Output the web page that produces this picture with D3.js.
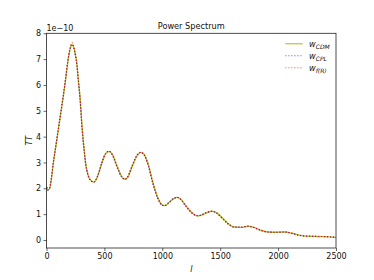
<!DOCTYPE html>
<html><head><meta charset="utf-8">
<script src="https://cdn.jsdelivr.net/npm/d3@7"></script>
<style>
html,body{margin:0;padding:0;background:#fff;}
svg{display:block;font-family:"DejaVu Sans",sans-serif;}
</style></head>
<body>
<svg id="chart" width="374" height="280"></svg>
<script>
// multipoles
const ells = [2,10,25,40,59,80,102,125,145,165,183,200,215,223,235,250,261,275,289,309,325,338,360,385,410,440,480,510,540,570,610,650,675,700,740,780,815,845,880,920,960,1000,1020,1060,1100,1130,1160,1200,1250,1300,1330,1380,1430,1470,1520,1570,1620,1680,1740,1790,1850,1910,1980,2060,2120,2180,2240,2320,2400,2500];
// TT values in units of 1e-10
const ttCDM = [2.05,1.93,1.97,2.3,2.97,3.6,4.26,4.95,5.55,6.2,6.85,7.3,7.53,7.56,7.45,7.15,6.85,6.2,5.55,4.26,3.5,2.97,2.5,2.3,2.24,2.45,3.0,3.33,3.43,3.3,2.85,2.45,2.35,2.42,2.85,3.25,3.39,3.3,2.9,2.2,1.65,1.35,1.33,1.45,1.6,1.65,1.58,1.35,1.08,0.94,0.95,1.05,1.11,1.05,0.85,0.63,0.5,0.49,0.53,0.49,0.38,0.31,0.3,0.31,0.26,0.19,0.15,0.14,0.13,0.10];
const ttCPL = [2.05,1.93,1.98,2.32,3.0,3.63,4.3,4.99,5.6,6.25,6.9,7.33,7.55,7.57,7.44,7.12,6.8,6.14,5.48,4.18,3.44,2.93,2.47,2.28,2.24,2.47,3.03,3.35,3.43,3.27,2.8,2.42,2.35,2.45,2.89,3.28,3.39,3.27,2.85,2.15,1.61,1.34,1.33,1.47,1.62,1.65,1.56,1.32,1.06,0.94,0.96,1.07,1.11,1.03,0.82,0.61,0.5,0.5,0.53,0.48,0.37,0.31,0.3,0.31,0.25,0.18,0.15,0.14,0.13,0.10];
const ttFR  = [2.06,1.94,1.98,2.31,2.99,3.62,4.29,4.98,5.59,6.25,6.9,7.37,7.6,7.63,7.51,7.2,6.89,6.22,5.56,4.27,3.51,2.98,2.5,2.3,2.24,2.45,3.0,3.34,3.44,3.31,2.86,2.46,2.35,2.42,2.85,3.25,3.4,3.31,2.9,2.2,1.65,1.35,1.33,1.45,1.6,1.65,1.58,1.35,1.08,0.94,0.95,1.05,1.11,1.05,0.85,0.63,0.5,0.49,0.53,0.49,0.38,0.31,0.3,0.31,0.26,0.19,0.15,0.14,0.13,0.10];
const xTicks = [0,500,1000,1500,2000,2500];
const yTicks = [0,1,2,3,4,5,6,7,8];
const seriesNames = ["CDM","CPL","f(R)"];
const seriesColors = ["#bcbd22","#0000ff","#ff0000"];

const svg = d3.select("#chart");
const L = 46.5, R = 336, T = 33.3, B = 248;
const x = d3.scaleLinear().domain([0,2500]).range([L,R]);
const y = d3.scaleLinear().domain([-0.31,8.0]).range([B,T]);

const line = d3.line().x(d=>x(d[0])).y(d=>y(d[1])).curve(d3.curveMonotoneX);
const sets = [ttCDM, ttCPL, ttFR];
const styles = [
  {w:1.4, dash:null, op:1},
  {w:1.1, dash:"1.2,1.8", op:0.75},
  {w:1.1, dash:"1.2,1.8", op:0.75}
];
const g = svg.append("g");
sets.forEach((vals,i)=>{
  const pts = ells.map((l,j)=>[l, vals[j]]);
  g.append("path").attr("d", line(pts)).attr("fill","none")
    .attr("stroke", seriesColors[i]).attr("stroke-width", styles[i].w)
    .attr("stroke-dasharray", styles[i].dash).attr("stroke-opacity", styles[i].op);
});

// axes
const xAxis = d3.axisBottom(x).tickValues(xTicks).tickFormat(d3.format("d")).tickSize(3).tickPadding(2);
const yAxis = d3.axisLeft(y).tickValues(yTicks).tickFormat(d3.format("d")).tickSize(3).tickPadding(2.5);
const gx = svg.append("g").attr("transform",`translate(0,${B})`).call(xAxis);
const gy = svg.append("g").attr("transform",`translate(${L},0)`).call(yAxis);
[gx,gy].forEach(a=>{
  a.select(".domain").remove();
  a.selectAll("line").attr("stroke","#222").attr("stroke-width",0.7);
  a.selectAll("text").attr("font-size",8).attr("fill","#111").attr("font-family","DejaVu Sans");
});
// frame
svg.append("rect").attr("x",L).attr("y",T).attr("width",R-L).attr("height",B-T)
  .attr("fill","none").attr("stroke","#222").attr("stroke-width",0.8);

// texts
svg.append("text").attr("x",(L+R)/2).attr("y",28.5).attr("text-anchor","middle")
  .attr("font-size",8.2).attr("fill","#111").text("Power Spectrum");
svg.append("text").attr("x",L).attr("y",30.5).attr("font-size",8).attr("fill","#111").text("1e\u221210");
svg.append("text").attr("transform",`translate(31.5,${(T+B)/2}) rotate(-90)`).attr("text-anchor","middle")
  .attr("font-size",8).attr("font-style","italic").attr("fill","#111").text("TT");
svg.append("text").attr("x",(L+R)/2).attr("y",272).attr("text-anchor","middle")
  .attr("font-size",8).attr("font-style","italic").attr("fill","#111").text("l");

// legend
const lg = svg.append("g");
seriesNames.forEach((n,i)=>{
  const yy = 43.7 + i*12;
  lg.append("line").attr("x1",285.3).attr("x2",302.7).attr("y1",yy).attr("y2",yy)
    .attr("stroke",seriesColors[i]).attr("stroke-width",styles[i].w)
    .attr("stroke-dasharray",styles[i].dash).attr("stroke-opacity",styles[i].op*0.8);
  const t = lg.append("text").attr("x",309).attr("y",yy+3).attr("font-size",8.2).attr("fill","#111");
  t.append("tspan").attr("font-style","italic").text("w");
  t.append("tspan").attr("font-style","italic").attr("font-size",6).attr("dy",1.8).text(n);
});
</script>
</body></html>
